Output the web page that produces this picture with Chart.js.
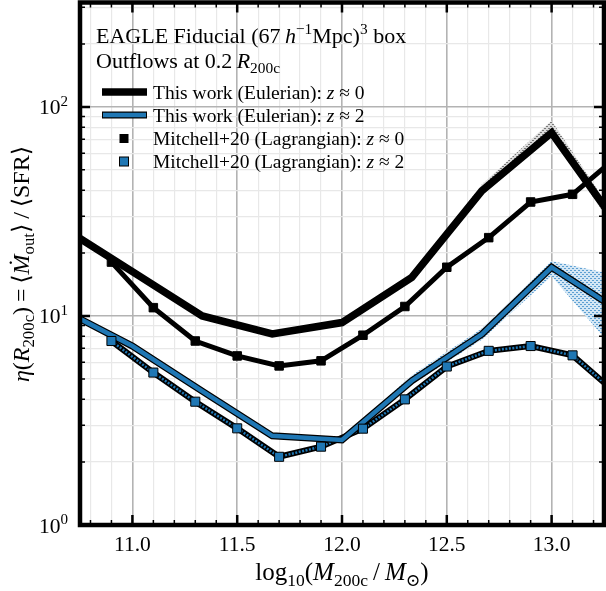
<!DOCTYPE html>
<html>
<head>
<meta charset="utf-8">
<script src="https://cdn.jsdelivr.net/npm/chart.js@4/dist/chart.umd.min.js"></script>
<style>
  body { margin: 0; background: #fff; }
  canvas { display: block; }
</style>
</head>
<body>
<canvas id="chart" width="606" height="591"></canvas>
<script>
// halo mass bins, log10(M200c / Msun)
const xEuler = [10.667, 11.0, 11.333, 11.667, 12.0, 12.333, 12.667, 13.0, 13.333];
const eulerZ0 = [26.5, 16.3, 10.0, 8.2, 9.3, 15.3, 39.7, 75.3, 25.7];
const eulerZ2 = [10.7, 7.18, 4.37, 2.67, 2.55, 4.9, 8.17, 17.1, 10.4];

const xMitchell = [10.9, 11.1, 11.3, 11.5, 11.7, 11.9, 12.1, 12.3, 12.5, 12.7, 12.9, 13.1, 13.3];
const mitchellZ0 = [18.1, 10.96, 7.59, 6.44, 5.77, 6.1, 8.09, 11.1, 17.1, 23.7, 35.1, 38.2, 56.5];
const mitchellZ2 = [7.59, 5.36, 3.89, 2.9, 2.12, 2.37, 2.89, 3.99, 5.73, 6.81, 7.18, 6.48, 4.34];

// scatter bands on the high mass bins
const xBandZ0 = [12.333, 12.667, 13.0, 13.333];
const bandZ0Hi = [15.6, 42.5, 86, 27];
const bandZ0Lo = [15.0, 38, 72, 23.4];
const xBandZ2 = [12.0, 12.333, 12.667, 13.0, 13.333];
const bandZ2Hi = [2.6, 5.2, 8.7, 18.3, 15.5];
const bandZ2Lo = [2.5, 4.7, 7.7, 15.5, 6.3];

const xTickValues = [11.0, 11.5, 12.0, 12.5, 13.0];
const xTickLabels = ["11.0", "11.5", "12.0", "12.5", "13.0"];
const yTickValues = [1, 10, 100];
const yTickExps = ["0", "1", "2"];

const BLUE = "#1f77b4";
const SERIF = "'Liberation Serif', 'DejaVu Serif', serif";

const pts = (xs, ys) => xs.map((x, i) => ({ x, y: ys[i] }));

// minor tick positions
const xMinor = [];
for (let v = 108; v <= 132; v++) xMinor.push(v / 10);
const yMinor = [];
for (let e = 0; e <= 2; e++) for (let m = 1; m <= 9; m++) if (m * 10 ** e <= 316) yMinor.push(m * 10 ** e);

function dotPattern(dot, bg) {
  const c = document.createElement("canvas");
  c.width = 4; c.height = 4;
  const g = c.getContext("2d");
  g.fillStyle = bg; g.fillRect(0, 0, 4, 4);
  g.fillStyle = dot;
  g.fillRect(0, 0, 1, 1);
  g.fillRect(2, 2, 1, 1);
  g.fillRect(1, 0, 1, 1);
  g.fillRect(3, 2, 1, 1);
  return g.createPattern(c, "repeat");
}

// rich text: runs of [text, style]; style r, i, sub, sup
function runFont(style, size) {
  const s = style === "sub" || style === "sup" ? size * 0.7 : size;
  return (style === "i" ? "italic " : "") + s + "px " + SERIF;
}
function runShift(style, size) {
  if (style === "sub") return size * 0.22;
  if (style === "sup") return -size * 0.4;
  return 0;
}
function richWidth(ctx, runs, size) {
  let w = 0;
  runs.forEach(([t, st]) => { ctx.font = runFont(st, size); w += ctx.measureText(t).width; });
  return w;
}
function drawRich(ctx, runs, x, y, size, align) {
  let cx = x;
  if (align === "center") cx = x - richWidth(ctx, runs, size) / 2;
  if (align === "right") cx = x - richWidth(ctx, runs, size);
  ctx.textBaseline = "alphabetic";
  ctx.textAlign = "left";
  runs.forEach(([t, st]) => {
    ctx.font = runFont(st, size);
    ctx.fillText(t, cx, y + runShift(st, size));
    cx += ctx.measureText(t).width;
  });
}

const decor = {
  id: "decor",
  afterDraw(chart) {
    const { ctx, chartArea: a, scales: { x, y } } = chart;
    ctx.save();
    ctx.strokeStyle = "#000";
    ctx.fillStyle = "#000";

    // inward ticks on all four sides
    xMinor.forEach((v) => {
      const px = x.getPixelForValue(v);
      const major = Math.abs(v * 2 - Math.round(v * 2)) < 1e-6;
      const len = major ? 10 : 5;
      ctx.lineWidth = major ? 2.5 : 1.5;
      ctx.beginPath();
      ctx.moveTo(px, a.bottom); ctx.lineTo(px, a.bottom - len);
      ctx.moveTo(px, a.top); ctx.lineTo(px, a.top + len);
      ctx.stroke();
    });
    yMinor.forEach((v) => {
      const py = y.getPixelForValue(v);
      const major = yTickValues.includes(v);
      const len = major ? 10 : 5;
      ctx.lineWidth = major ? 2.5 : 1.5;
      ctx.beginPath();
      ctx.moveTo(a.left, py); ctx.lineTo(a.left + len, py);
      ctx.moveTo(a.right, py); ctx.lineTo(a.right - len, py);
      ctx.stroke();
    });

    // frame
    ctx.lineWidth = 4.5;
    ctx.strokeRect(a.left, a.top, a.right - a.left, a.bottom - a.top);

    // tick labels
    ctx.font = "21.5px " + SERIF;
    ctx.textAlign = "center";
    ctx.textBaseline = "alphabetic";
    xTickValues.forEach((v, i) => ctx.fillText(xTickLabels[i], x.getPixelForValue(v), 551));
    yTickValues.forEach((v, i) => {
      const py = y.getPixelForValue(v);
      drawRich(ctx, [["10", "r"], [yTickExps[i], "sup"]], 68, py + 7.5, 21.5, "right");
    });

    // axis titles
    drawRich(ctx, [["log", "r"], ["10", "sub"], ["(", "r"], ["M", "i"], ["200c", "sub"],
      ["\u2009/\u2009", "r"], ["M", "i"], ["\u2299", "sub"], [")", "r"]], x.getPixelForValue(12.0), 580, 25, "center");

    ctx.save();
    ctx.translate(29, 264);
    ctx.rotate(-Math.PI / 2);
    drawRich(ctx, [["\u03b7", "i"], ["(", "r"], ["R", "i"], ["200c", "sub"], [")", "r"], ["\u2009=\u2009", "r"],
      ["\u27e8", "r"], ["\u1e40", "i"], ["out", "sub"], ["\u27e9", "r"], ["\u2009/\u2009", "r"],
      ["\u27e8SFR\u27e9", "r"]], 0, 0, 24, "center");
    ctx.restore();

    // annotation
    drawRich(ctx, [["EAGLE Fiducial (67", "r"], ["\u2009h", "i"], ["\u22121", "sup"], ["Mpc)", "r"],
      ["3", "sup"], [" box", "r"]], 96, 43, 22, "left");
    drawRich(ctx, [["Outflows at 0.2\u2009", "r"], ["R", "i"], ["200c", "sub"]], 96, 68, 22, "left");

    // legend
    const rows = [92, 115, 138.5, 161.5];
    const lx0 = 102, lx1 = 147, tx = 153;
    ctx.lineCap = "butt";
    ctx.lineWidth = 7.5;
    ctx.strokeStyle = "#000";
    ctx.beginPath(); ctx.moveTo(lx0, rows[0]); ctx.lineTo(lx1, rows[0]); ctx.stroke();
    ctx.lineWidth = 7;
    ctx.beginPath(); ctx.moveTo(lx0, rows[1]); ctx.lineTo(lx1, rows[1]); ctx.stroke();
    ctx.lineWidth = 4.5;
    ctx.strokeStyle = BLUE;
    ctx.beginPath(); ctx.moveTo(lx0 + 1, rows[1]); ctx.lineTo(lx1 - 1, rows[1]); ctx.stroke();
    ctx.fillStyle = "#000";
    ctx.fillRect(124 - 4.5, rows[2] - 4.5, 9, 9);
    ctx.fillStyle = BLUE;
    ctx.strokeStyle = "#000";
    ctx.lineWidth = 1;
    ctx.fillRect(124 - 4.5, rows[3] - 4.5, 9, 9);
    ctx.strokeRect(124 - 4.5, rows[3] - 4.5, 9, 9);
    ctx.fillStyle = "#000";
    const labels = [
      [["This work (Eulerian): ", "r"], ["z", "i"], [" \u2248 0", "r"]],
      [["This work (Eulerian): ", "r"], ["z", "i"], [" \u2248 2", "r"]],
      [["Mitchell+20 (Lagrangian): ", "r"], ["z", "i"], [" \u2248 0", "r"]],
      [["Mitchell+20 (Lagrangian): ", "r"], ["z", "i"], [" \u2248 2", "r"]],
    ];
    labels.forEach((runs, i) => drawRich(ctx, runs, tx, rows[i] + 6.5, 19.5, "left"));
    ctx.restore();
  },
};

const lineBase = { pointRadius: 0, tension: 0, fill: false, clip: 0, borderJoinStyle: "miter", borderCapStyle: "butt" };

new Chart(document.getElementById("chart"), {
  type: "line",
  data: {
    datasets: [
      // scatter bands
      { ...lineBase, data: pts(xBandZ0, bandZ0Hi), borderWidth: 0, borderColor: "rgba(0,0,0,0)",
        backgroundColor: dotPattern("#7a7a7a", "#dcdcdc"), fill: "+1", order: 20 },
      { ...lineBase, data: pts(xBandZ0, bandZ0Lo), borderWidth: 0, borderColor: "rgba(0,0,0,0)", order: 19 },
      { ...lineBase, data: pts(xBandZ2, bandZ2Hi), borderWidth: 0, borderColor: "rgba(0,0,0,0)",
        backgroundColor: dotPattern("#5d9fd2", "#d4e7f5"), fill: "+1", order: 18 },
      { ...lineBase, data: pts(xBandZ2, bandZ2Lo), borderWidth: 0, borderColor: "rgba(0,0,0,0)", order: 17 },

      // Mitchell+20 z~2 : black edged band line with blue dotted core, then markers
      { ...lineBase, data: pts(xMitchell, mitchellZ2), borderColor: "#000", borderWidth: 6, order: 9 },
      { ...lineBase, data: pts(xMitchell, mitchellZ2), borderColor: BLUE, borderWidth: 2.5,
        borderDash: [2, 1.5], order: 8 },

      // this work, Eulerian
      { ...lineBase, data: pts(xEuler, eulerZ0), borderColor: "#000", borderWidth: 7.5, order: 6 },
      { ...lineBase, data: pts(xEuler, eulerZ2), borderColor: "#000", borderWidth: 7, order: 5 },
      { ...lineBase, data: pts(xEuler, eulerZ2), borderColor: BLUE, borderWidth: 4.5, order: 4 },

      // Mitchell+20 z~0
      { ...lineBase, data: pts(xMitchell, mitchellZ0), borderColor: "#000", borderWidth: 5,
        pointRadius: 6, pointStyle: "rect", pointBackgroundColor: "#000", pointBorderColor: "#000",
        pointBorderWidth: 1, order: 2 },
      // Mitchell+20 z~2 markers
      { ...lineBase, data: pts(xMitchell, mitchellZ2), showLine: false, pointRadius: 6.4, pointStyle: "rect",
        pointBackgroundColor: BLUE, pointBorderColor: "#000", pointBorderWidth: 1, order: 1 },
    ],
  },
  options: {
    responsive: false,
    animation: false,
    devicePixelRatio: 1,
    layout: { autoPadding: false, padding: { left: 80, right: 2, top: 2.5, bottom: 66 } },
    plugins: { legend: { display: false }, tooltip: { enabled: false } },
    scales: {
      x: {
        type: "linear",
        min: 10.75,
        max: 13.25,
        afterBuildTicks: (scale) => { scale.ticks = xMinor.map((value) => ({ value })); },
        ticks: { display: false },
        border: { display: false },
        grid: {
          drawTicks: false,
          color: (c) => (Math.abs(c.tick.value * 2 - Math.round(c.tick.value * 2)) < 1e-6 ? "#b3b3b3" : "#e8e8e8"),
          lineWidth: (c) => (Math.abs(c.tick.value * 2 - Math.round(c.tick.value * 2)) < 1e-6 ? 1.6 : 1.2),
        },
      },
      y: {
        type: "logarithmic",
        min: 1,
        max: 316,
        afterBuildTicks: (scale) => { scale.ticks = yMinor.map((value) => ({ value })); },
        ticks: { display: false },
        border: { display: false },
        grid: {
          drawTicks: false,
          color: (c) => (yTickValues.includes(c.tick.value) ? "#b3b3b3" : "#e8e8e8"),
          lineWidth: (c) => (yTickValues.includes(c.tick.value) ? 1.6 : 1.2),
        },
      },
    },
  },
  plugins: [decor],
});
</script>
</body>
</html>
